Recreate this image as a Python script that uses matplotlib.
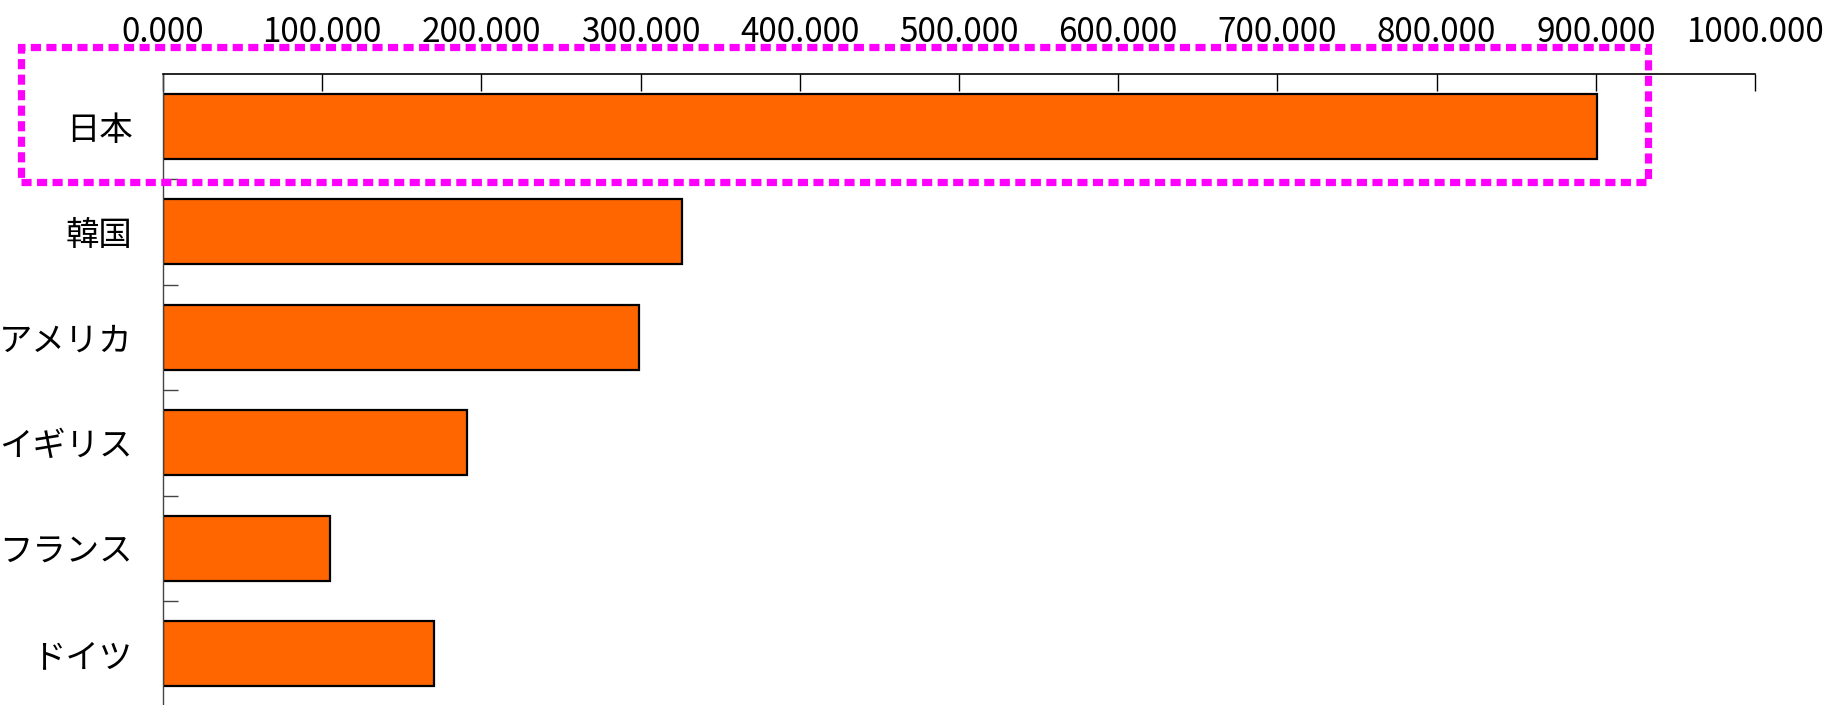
import matplotlib.pyplot as plt
import matplotlib.ticker as ticker
from matplotlib.patches import Rectangle

plt.rcParams['font.family'] = ['Noto Sans CJK JP', 'DejaVu Sans']

countries = ['日本', '韓国', 'アメリカ', 'イギリス', 'フランス', 'ドイツ']
values = [901.0, 326.0, 299.0, 191.0, 105.0, 170.0]
x_ticks = [0, 100, 200, 300, 400, 500, 600, 700, 800, 900, 1000]

W, H = 1837, 705
fig = plt.figure(figsize=(W / 100, H / 100), dpi=100)
ax = fig.add_axes([163 / W, -1.5 / H, (1755 - 163) / W, 633 / H])

pos = list(range(len(countries)))
ax.barh(pos, values, height=0.62, color='#FF6600', edgecolor='black', linewidth=1.6)

ax.set_xlim(0, 1000)
ax.set_ylim(len(countries) - 0.5, -0.5)

# x axis on top, ticks pointing inward
ax.xaxis.tick_top()
ax.set_xticks(x_ticks)
ax.xaxis.set_major_formatter(ticker.FormatStrFormatter('%.3f'))
ax.tick_params(axis='x', direction='in', length=12, width=1, labelsize=24, pad=17)

# category labels at centres, boundary ticks as minor ticks
ax.set_yticks(pos)
ax.set_yticklabels(countries)
ax.set_yticks([p + 0.5 for p in pos[:-1]], minor=True)
ax.tick_params(axis='y', which='major', length=0, labelsize=24, pad=22)
ax.tick_params(axis='y', which='minor', direction='in', length=11, width=1, color='#444444')

for s in ['right', 'bottom']:
    ax.spines[s].set_visible(False)
ax.spines['top'].set_linewidth(1.2)
ax.spines['left'].set_linewidth(1)
ax.spines['left'].set_color('#444444')

# highlight box around the first row
box = Rectangle((21, H - 182), 1648 - 21, 182 - 47, transform=None,
                fill=False, edgecolor='#FF00FF', linewidth=5.2,
                linestyle=(0, (1.4, 0.75)), clip_on=False, zorder=10)
fig.patches.append(box)

fig.savefig('out.png', dpi=100)
